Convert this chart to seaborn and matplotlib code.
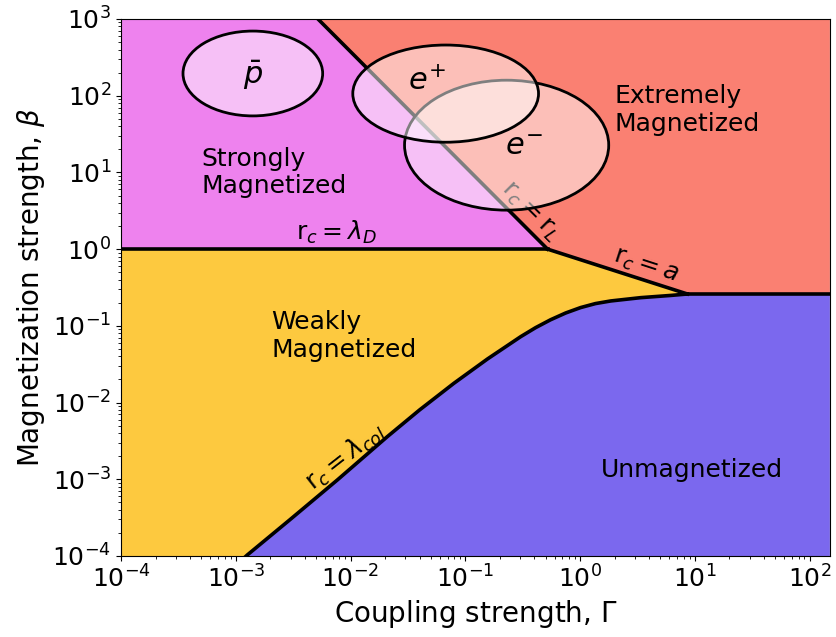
import numpy as np
import matplotlib
matplotlib.use("Agg")
import matplotlib.pyplot as plt
from matplotlib.patches import Ellipse
import seaborn as sns

# Regime boundaries in the (Gamma, beta) plane
gamma_debye = [1e-4, 0.52]          # r_c = lambda_D
beta_debye = [1.0, 1.0]
gamma_larmor = [5.2e-3, 0.52]       # r_c = r_L
beta_larmor = [1e3, 1.0]
gamma_spacing = [0.52, 8.6]         # r_c = a
beta_spacing = [1.0, 0.26]
gamma_flat = [8.6, 150.0]           # upper edge of the unmagnetized region
beta_flat = [0.26, 0.26]
gamma_col = [1.0e-3, 1.26e-3, 2.94e-3, 7.66e-3, 2.09e-2, 3.99e-2, 7.94e-2, 0.156, 0.303,
             0.409, 0.553, 0.748, 1.01, 1.36, 1.85, 3.37, 6.15, 8.6]          # r_c = lambda_col
beta_col = [7.5e-5, 1.03e-4, 2.94e-4, 9.77e-4, 3.59e-3, 8.0e-3, 1.78e-2, 3.70e-2, 7.21e-2,
            9.46e-2, 0.120, 0.147, 0.173, 0.195, 0.211, 0.233, 0.249, 0.26]

regions = ["Strongly\nMagnetized", "Extremely\nMagnetized", "Weakly\nMagnetized", "Unmagnetized"]
species = [r"$\bar{p}$", r"$e^{+}$", r"$e^{-}$"]

c_strong = "#EE82EE"
c_extreme = "#FA8072"
c_weak = "#FDC93F"
c_unmag = "#7B68EE"

xmin, xmax = 1e-4, 150.0
ymin, ymax = 1e-4, 1e3

fig = plt.figure(figsize=(8.36, 6.37), dpi=100)
ax = fig.add_axes([0.1447, 0.1272, 0.848, 0.843])
ax.set_xscale("log")
ax.set_yscale("log")

# Filled regimes
strong_x = [xmin, xmin, gamma_larmor[0], gamma_larmor[1]]
strong_y = [beta_debye[0], ymax, beta_larmor[0], beta_larmor[1]]
ax.fill(strong_x, strong_y, color=c_strong, lw=0, zorder=1)

extreme_x = [gamma_larmor[0], xmax, xmax, gamma_flat[0], gamma_spacing[0]]
extreme_y = [ymax, ymax, beta_flat[1], beta_flat[0], beta_spacing[0]]
ax.fill(extreme_x, extreme_y, color=c_extreme, lw=0, zorder=1)

weak_x = [xmin, gamma_debye[1], gamma_spacing[1]] + gamma_col[::-1] + [xmin]
weak_y = [beta_debye[0], beta_debye[1], beta_spacing[1]] + beta_col[::-1] + [ymin * 0.5]
ax.fill(weak_x, weak_y, color=c_weak, lw=0, zorder=1)

unmag_x = gamma_col + [xmax, xmax]
unmag_y = beta_col + [beta_flat[1], ymin * 0.5]
ax.fill(unmag_x, unmag_y, color=c_unmag, lw=0, zorder=1)

# Boundary lines
for gx, by in [(gamma_debye, beta_debye), (gamma_larmor, beta_larmor),
               (gamma_spacing, beta_spacing), (gamma_flat, beta_flat),
               (gamma_col, beta_col)]:
    sns.lineplot(x=gx, y=by, color="k", lw=2.6, sort=False, estimator=None,
                 ax=ax, zorder=3)

ax.set_xlim(xmin, xmax)
ax.set_ylim(ymin, ymax)

# Regime names
fs_region = 18
ax.text(5.0e-4, 10.0, regions[0], fontsize=fs_region, ha="left", va="center", zorder=5)
ax.text(2.0, 65.0, regions[1], fontsize=fs_region, ha="left", va="center", zorder=5)
ax.text(2.03e-3, 0.074, regions[2], fontsize=fs_region, ha="left", va="center", zorder=5)
ax.text(1.52, 1.32e-3, regions[3], fontsize=fs_region, ha="left", va="center", zorder=5)

# Boundary labels
fs_bound = 18
ax.text(7.5e-3, 1.67, r"r$_c=\lambda_D$", fontsize=fs_bound, ha="center", va="center", zorder=5)
ax.text(0.37, 3.08, r"r$_c=$r$_L$", fontsize=fs_bound, ha="center", va="center",
        rotation=-45, rotation_mode="anchor", zorder=3)
ax.text(3.74, 0.607, r"r$_c=a$", fontsize=fs_bound, ha="center", va="center",
        rotation=-18, rotation_mode="anchor", zorder=5)
ax.text(9.1e-3, 1.97e-3, r"r$_c=\lambda_{col}$", fontsize=fs_bound, ha="center", va="center",
        rotation=38, rotation_mode="anchor", zorder=5)

# Species markers
for (cx, cy, w, h) in [(0.544, 0.765, 0.288, 0.242), (0.458, 0.861, 0.262, 0.181),
                       (0.186, 0.8985, 0.197, 0.158)]:
    ax.add_patch(Ellipse((cx, cy), w, h, transform=ax.transAxes,
                         facecolor=(1, 1, 1, 0.5), edgecolor="k", lw=2, zorder=4))
ax.text(0.186, 0.895, species[0], transform=ax.transAxes, fontsize=22, ha="center", va="center", zorder=5)
ax.text(0.432, 0.884, species[1], transform=ax.transAxes, fontsize=22, ha="center", va="center", zorder=5)
ax.text(0.568, 0.762, species[2], transform=ax.transAxes, fontsize=22, ha="center", va="center", zorder=5)

ax.set_xlabel(r"Coupling strength, $\Gamma$", fontsize=20)
ax.set_ylabel(r"Magnetization strength, $\beta$", fontsize=20)
ax.tick_params(axis="both", which="major", labelsize=18)

fig.savefig("out.png", dpi=100)
